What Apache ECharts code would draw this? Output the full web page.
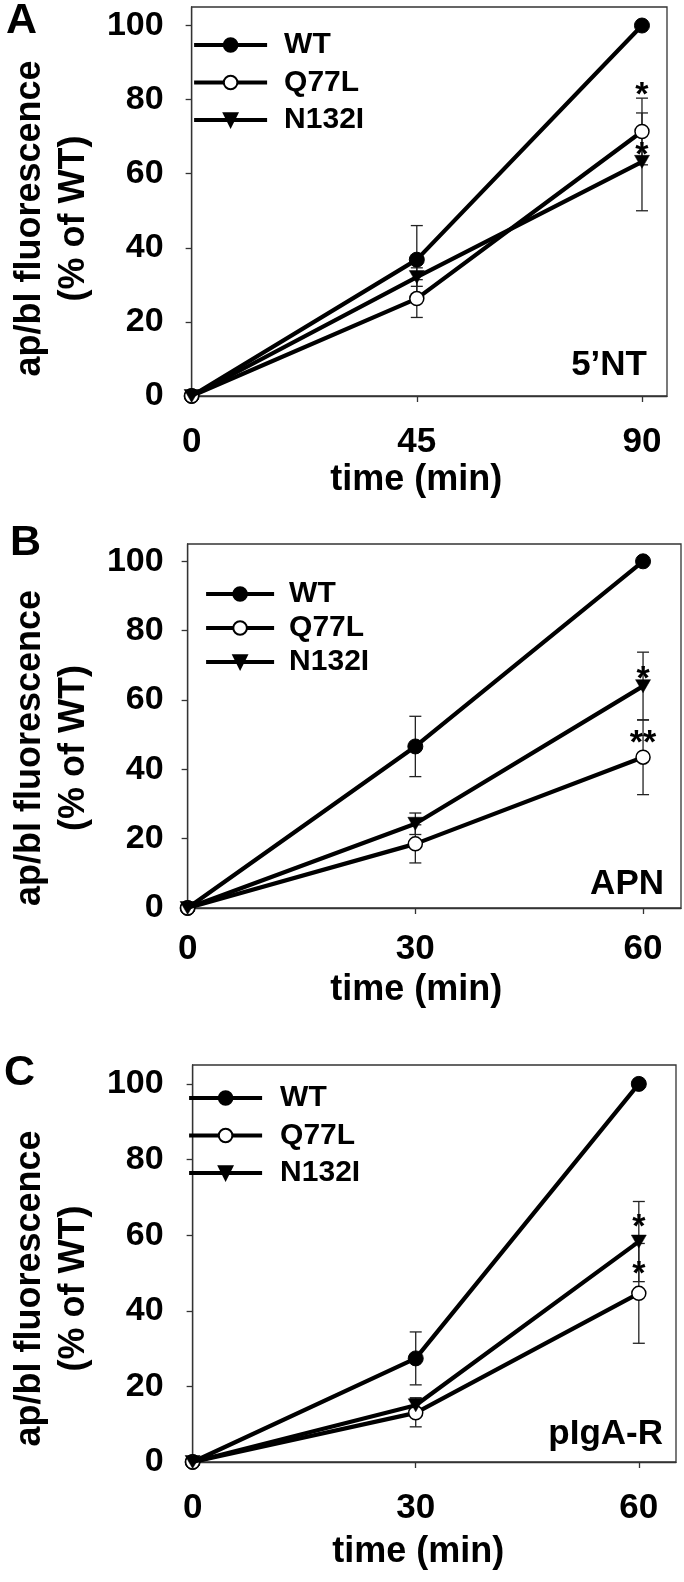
<!DOCTYPE html>
<html>
<head>
<meta charset="utf-8">
<script src="https://cdn.jsdelivr.net/npm/echarts@6/dist/echarts.min.js"></script>
<style>
html,body{margin:0;padding:0;background:#fff;}
#chart{width:684px;height:1582px;}
</style>
</head>
<body>
<div id="chart"></div>
<script>
// ---------------- data ----------------
const seriesNames = ['WT', 'Q77L', 'N132I'];
const yTicks = [0, 20, 40, 60, 80, 100];

// Panel A (5'NT)
const timesA = [0, 45, 90];
const wtA = [0, 36.8, 100];
const wtErrA = [0, 9.2, 0];
const q77lA = [0, 26.3, 71.4];
const q77lErrA = [0, 5.1, 9.0];
const n132iA = [0, 32.1, 63.2];
const n132iErrA = [0, 2.5, 13.2];
const sigA = [[90, 83.2, '*'], [90, 67.0, '*']];

// Panel B (APN)
const timesB = [0, 30, 60];
const wtB = [0, 46.6, 100];
const wtErrB = [0, 8.7, 0];
const q77lB = [0, 18.5, 43.5];
const q77lErrB = [0, 5.5, 10.8];
const n132iB = [0, 24.3, 64.0];
const n132iErrB = [0, 3.1, 9.8];
const sigB = [[60, 68.3, '*'], [60, 49.7, '**']];

// Panel C (pIgA-R)
const timesC = [0, 30, 60];
const wtC = [0, 27.4, 100];
const wtErrC = [0, 7.0, 0];
const q77lC = [0, 13.0, 44.6];
const q77lErrC = [0, 3.7, 13.2];
const n132iC = [0, 15.0, 58.3];
const n132iErrC = [0, 2.0, 10.6];
const sigC = [[60, 64.0, '*'], [60, 51.8, '*']];

const panelLetters = ['A', 'B', 'C'];
const panelNames = ['5\u2019NT', 'APN', 'pIgA-R'];
const xTitle = 'time (min)';
const yTitle = 'ap/bl fluorescence\n(% of WT)';

// ---------------- layout ----------------
const FONT = '"Liberation Sans", Arial, Helvetica, sans-serif';
const FRAME = '#333';
const LINE_W = 4.2;

const panels = [
  { letter: panelLetters[0], tag: panelNames[0], times: timesA, xMax: 95,
    vals: [wtA, q77lA, n132iA], errs: [wtErrA, q77lErrA, n132iErrA], sig: sigA,
    grid: { left: 170, top: 7, width: 497, height: 389 },
    yLabelMargin: 28, xLabelMargin: 29, xNameGap: 66, xNameShift: 13,
    yNameGap: 84, yNameShift: 17,
    legend: { left: 192, top: 30, itemWidth: 73, itemGap: 7.5, pad: 12 },
    letterPos: { left: 6, top: 0 }, tagPos: { right: 37, top: 348 } },
  { letter: panelLetters[1], tag: panelNames[1], times: timesB, xMax: 65,
    vals: [wtB, q77lB, n132iB], errs: [wtErrB, q77lErrB, n132iErrB], sig: sigB,
    grid: { left: 179, top: 544, width: 502, height: 364 },
    yLabelMargin: 24, xLabelMargin: 24, xNameGap: 64, xNameShift: 18,
    yNameGap: 85, yNameShift: 22,
    legend: { left: 204, top: 579, itemWidth: 68, itemGap: 4, pad: 10 },
    letterPos: { left: 10, top: 522 }, tagPos: { right: 20, top: 867 } },
  { letter: panelLetters[2], tag: panelNames[2], times: timesC, xMax: 65,
    vals: [wtC, q77lC, n132iC], errs: [wtErrC, q77lErrC, n132iErrC], sig: sigC,
    grid: { left: 169, top: 1065, width: 507, height: 397 },
    yLabelMargin: 29, xLabelMargin: 29, xNameGap: 72, xNameShift: 16,
    yNameGap: 83, yNameShift: 25,
    legend: { left: 187, top: 1083, itemWidth: 73, itemGap: 7.5, pad: 13 },
    letterPos: { left: 4, top: 1052 }, tagPos: { right: 21, top: 1417 } }
];

const symbolStyles = [
  { symbol: 'circle', symbolSize: 15, itemStyle: { color: '#000', borderColor: '#000', borderWidth: 1 } },
  { symbol: 'circle', symbolSize: 14, itemStyle: { color: '#fff', borderColor: '#000', borderWidth: 1.5 } },
  { symbol: 'path://M0,0L16,0L8,14Z', symbolSize: [15, 13], itemStyle: { color: '#000', borderColor: '#000', borderWidth: 0.5 } }
];

const option = {
  animation: false,
  backgroundColor: '#fff',
  title: [], grid: [], xAxis: [], yAxis: [], legend: [], series: []
};

panels.forEach((p, i) => {
  option.grid.push(Object.assign({ show: true, borderColor: FRAME, borderWidth: 1.3, backgroundColor: 'transparent' }, p.grid));

  option.xAxis.push({
    type: 'value', gridIndex: i, min: 0, max: p.xMax,
    axisLine: { show: true, onZero: false, lineStyle: { color: FRAME, width: 1.3 } },
    axisTick: { show: true, inside: false, length: 6, customValues: p.times, lineStyle: { color: FRAME, width: 1.3 } },
    axisLabel: { show: true, margin: p.xLabelMargin, customValues: p.times, fontSize: 35, fontWeight: 'bold', color: '#000', fontFamily: FONT },
    splitLine: { show: false },
    name: xTitle, nameLocation: 'middle', nameGap: p.xNameGap,
    nameTextStyle: { fontSize: 36, fontWeight: 'bold', color: '#000', fontFamily: FONT, padding: [0, p.xNameShift * 2, 0, 0] }
  });

  option.yAxis.push({
    type: 'value', gridIndex: i, min: 0, max: 105,
    axisLine: { show: true, onZero: false, lineStyle: { color: FRAME, width: 1.3 } },
    axisTick: { show: true, inside: false, length: 6, customValues: yTicks, lineStyle: { color: FRAME, width: 1.3 } },
    axisLabel: { show: true, margin: p.yLabelMargin, customValues: yTicks, fontSize: 34, fontWeight: 'bold', color: '#000', fontFamily: FONT },
    splitLine: { show: false },
    name: yTitle, nameLocation: 'middle', nameGap: p.yNameGap, nameRotate: 90,
    nameTextStyle: { fontSize: 36, lineHeight: 44, fontWeight: 'bold', color: '#000', fontFamily: FONT, align: 'center', padding: [0, p.yNameShift * 2, 0, 0] }
  });

  option.legend.push({
    data: seriesNames, orient: 'vertical', left: p.legend.left, top: p.legend.top,
    itemWidth: p.legend.itemWidth, itemHeight: 17, itemGap: p.legend.itemGap, padding: 0,
    selectedMode: false,
    lineStyle: { width: LINE_W, color: '#000' },
    textStyle: { fontSize: 30, lineHeight: 30, fontWeight: 'bold', color: '#000', fontFamily: FONT, padding: [0, 0, 0, p.legend.pad] }
  });

  option.title.push({
    text: p.letter, left: p.letterPos.left, top: p.letterPos.top, padding: 0,
    textStyle: { fontSize: 43, fontWeight: 'bold', color: '#000', fontFamily: FONT, lineHeight: 43 }
  });
  option.title.push({
    text: p.tag, right: p.tagPos.right, top: p.tagPos.top, padding: 0,
    textStyle: { fontSize: 35, fontWeight: 'bold', color: '#000', fontFamily: FONT, lineHeight: 35 }
  });

  // error bars
  const errData = [];
  p.vals.forEach((vals, s) => {
    vals.forEach((v, k) => {
      const e = p.errs[s][k];
      if (e > 0) errData.push([p.times[k], v - e, v + e]);
    });
  });
  option.series.push({
    type: 'custom', xAxisIndex: i, yAxisIndex: i, z: 2, silent: true,
    clip: false,
    data: errData,
    encode: { x: 0, y: [1, 2] },
    renderItem: function (params, api) {
      const lo = api.coord([api.value(0), api.value(1)]);
      const hi = api.coord([api.value(0), api.value(2)]);
      const w = 6;
      const st = { stroke: '#222', lineWidth: 1.3, fill: null };
      return {
        type: 'group',
        children: [
          { type: 'line', shape: { x1: lo[0], y1: lo[1], x2: hi[0], y2: hi[1] }, style: st },
          { type: 'line', shape: { x1: lo[0] - w, y1: lo[1], x2: lo[0] + w, y2: lo[1] }, style: st },
          { type: 'line', shape: { x1: hi[0] - w, y1: hi[1], x2: hi[0] + w, y2: hi[1] }, style: st }
        ]
      };
    }
  });

  // lines
  seriesNames.forEach((name, s) => {
    option.series.push(Object.assign({
      type: 'line', name: name, xAxisIndex: i, yAxisIndex: i, z: 3 + s,
      clip: false, silent: true,
      data: p.times.map((t, k) => [t, p.vals[s][k]]),
      lineStyle: { color: '#000', width: LINE_W },
      emphasis: { disabled: true }
    }, JSON.parse(JSON.stringify(symbolStyles[s]))));
  });

  // significance asterisks
  option.series.push({
    type: 'scatter', xAxisIndex: i, yAxisIndex: i, z: 10, silent: true,
    symbol: 'circle', symbolSize: 2,
    itemStyle: { color: 'rgba(0,0,0,0)', borderWidth: 0 },
    data: p.sig.map(d => ({ value: [d[0], d[1]], name: d[2] })),
    label: { show: true, position: 'inside', formatter: '{b}', offset: [0, 8],
             fontSize: 34, fontWeight: 'bold', color: '#000', opacity: 1, fontFamily: FONT },
    emphasis: { disabled: true }
  });
});

const chart = echarts.init(document.getElementById('chart'), null, { renderer: 'canvas' });
chart.setOption(option);
</script>
</body>
</html>
